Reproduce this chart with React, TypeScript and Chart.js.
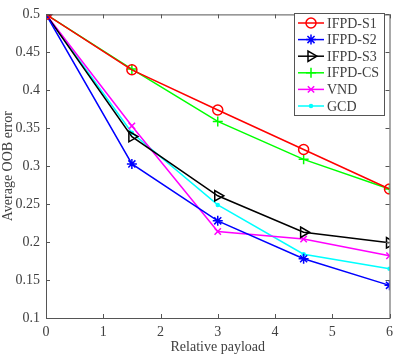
import React, { useEffect, useRef } from "react";
import { Chart, registerables } from "chart.js";

Chart.register(...registerables);

const xValues = [0, 1.5, 3, 4.5, 6];
const xTicks = [0, 1, 2, 3, 4, 5, 6];
const yTicks = [0.1, 0.15, 0.2, 0.25, 0.3, 0.35, 0.4, 0.45, 0.5];

const seriesNames = ["IFPD-S1", "IFPD-S2", "IFPD-S3", "IFPD-CS", "VND", "GCD"];
const s1 = [0.5, 0.427, 0.374, 0.322, 0.27];
const s2 = [0.5, 0.303, 0.228, 0.178, 0.143];
const s3 = [0.5, 0.339, 0.261, 0.213, 0.199];
const cs = [0.5, 0.428, 0.359, 0.309, 0.27];
const vnd = [0.5, 0.353, 0.214, 0.204, 0.182];
const gcd = [0.5, 0.344, 0.249, 0.184, 0.165];

const colors = ["#ff0000", "#0000ff", "#000000", "#00ff00", "#ff00ff", "#00ffff"];
const styles: any[] = ["circle", "star", "triangle", "cross", "crossRot", "circle"];
const radii = [5, 5, 6, 5, 4.5, 1.5];
const rotations = [0, 0, 90, 0, 0, 0];
const fills = ["rgba(0,0,0,0)", "#0000ff", "rgba(0,0,0,0)", "#00ff00", "#ff00ff", "#00ffff"];
const allData = [s1, s2, s3, cs, vnd, gcd];

const FONT = "'Liberation Serif', 'Times New Roman', serif";
const AXIS = "#555555";
const TEXT = "#404040";

function drawMarker(ctx: CanvasRenderingContext2D, i: number, x: number, y: number) {
  const r = radii[i];
  ctx.save();
  ctx.strokeStyle = colors[i];
  ctx.fillStyle = fills[i];
  ctx.lineWidth = 1.5;
  ctx.beginPath();
  const st = styles[i];
  if (st === "circle") {
    ctx.arc(x, y, r, 0, Math.PI * 2);
    ctx.fill();
    ctx.stroke();
  } else if (st === "triangle") {
    const rad = (rotations[i] * Math.PI) / 180;
    for (let k = 0; k < 3; k++) {
      const ang = rad - Math.PI / 2 + (k * 2 * Math.PI) / 3;
      const px = x + Math.cos(ang) * r;
      const py = y + Math.sin(ang) * r;
      if (k === 0) ctx.moveTo(px, py);
      else ctx.lineTo(px, py);
    }
    ctx.closePath();
    ctx.stroke();
  } else {
    const angs = st === "cross" ? [0, 90] : st === "crossRot" ? [45, 135] : [0, 45, 90, 135];
    angs.forEach((d) => {
      const a = (d * Math.PI) / 180;
      ctx.moveTo(x - Math.cos(a) * r, y - Math.sin(a) * r);
      ctx.lineTo(x + Math.cos(a) * r, y + Math.sin(a) * r);
    });
    ctx.stroke();
  }
  ctx.restore();
}

const framePlugin = {
  id: "frame",
  afterDraw(chart: any) {
    const { ctx, chartArea: a, scales } = chart;
    ctx.save();
    ctx.strokeStyle = AXIS;
    ctx.lineWidth = 1;
    ctx.strokeRect(a.left + 0.5, a.top + 0.5, a.right - a.left, a.bottom - a.top);
    const tl = 4;
    ctx.beginPath();
    xTicks.forEach((v) => {
      const px = Math.round(scales.x.getPixelForValue(v)) + 0.5;
      ctx.moveTo(px, a.bottom);
      ctx.lineTo(px, a.bottom - tl);
      ctx.moveTo(px, a.top);
      ctx.lineTo(px, a.top + tl);
    });
    yTicks.forEach((v) => {
      const py = Math.round(scales.y.getPixelForValue(v)) + 0.5;
      ctx.moveTo(a.left, py);
      ctx.lineTo(a.left + tl, py);
      ctx.moveTo(a.right, py);
      ctx.lineTo(a.right - tl, py);
    });
    ctx.stroke();

    // legend
    const lx = 294, ly = 13, lw = 90, lh = 102;
    ctx.fillStyle = "#ffffff";
    ctx.fillRect(lx, ly, lw, lh);
    ctx.strokeStyle = AXIS;
    ctx.lineWidth = 1;
    ctx.strokeRect(lx + 0.5, ly + 0.5, lw, lh);
    ctx.font = `14px ${FONT}`;
    ctx.textBaseline = "middle";
    chart.data.datasets.forEach((ds: any, i: number) => {
      const cy = ly + 10 + i * 16.6;
      ctx.strokeStyle = ds.borderColor;
      ctx.lineWidth = 1.5;
      ctx.beginPath();
      ctx.moveTo(lx + 4, cy);
      ctx.lineTo(lx + 30, cy);
      ctx.stroke();
      drawMarker(ctx, i, lx + 17, cy);
      ctx.fillStyle = TEXT;
      ctx.fillText(ds.label, lx + 33, cy + 1);
    });
    ctx.restore();
  },
};

export default function App() {
  const ref = useRef<HTMLCanvasElement>(null);
  useEffect(() => {
    document.body.style.margin = "0";
    const chart = new Chart(ref.current!, {
      type: "line",
      data: {
        datasets: allData.map((d, i) => ({
          label: seriesNames[i],
          data: d.map((v, j) => ({ x: xValues[j], y: v })),
          borderColor: colors[i],
          backgroundColor: fills[i],
          pointBackgroundColor: fills[i],
          pointBorderColor: colors[i],
          pointStyle: styles[i],
          pointRadius: radii[i],
          pointRotation: rotations[i],
          pointBorderWidth: 1.5,
          borderWidth: 1.5,
          tension: 0,
          fill: false,
        })),
      },
      options: {
        animation: false,
        responsive: false,
        events: [],
        layout: { padding: { left: 0, right: 8, top: 7, bottom: 0 } },
        plugins: { legend: { display: false }, tooltip: { enabled: false } },
        scales: {
          x: {
            type: "linear",
            min: 0,
            max: 6,
            afterFit: (s: any) => { s.height = 39; },
            afterBuildTicks: (s: any) => { s.ticks = xTicks.map((v) => ({ value: v })); },
            grid: { display: false, drawTicks: false },
            border: { display: false },
            ticks: { color: TEXT, font: { family: FONT, size: 14 }, padding: 6, maxRotation: 0 },
            title: { display: true, text: "Relative payload", color: TEXT, font: { family: FONT, size: 14 }, padding: { top: 0, bottom: 1 } },
          },
          y: {
            type: "linear",
            min: 0.1,
            max: 0.5,
            afterFit: (s: any) => { s.width = 46; },
            afterBuildTicks: (s: any) => { s.ticks = yTicks.map((v) => ({ value: v })); },
            grid: { display: false, drawTicks: false },
            border: { display: false },
            ticks: {
              color: TEXT,
              font: { family: FONT, size: 14 },
              padding: 6,
              callback: (v: any) => String(Math.round(Number(v) * 100) / 100),
            },
            title: { display: true, text: "Average OOB error", color: TEXT, font: { family: FONT, size: 14 }, padding: { top: 0, bottom: 1 } },
          },
        },
      },
      plugins: [framePlugin],
    });
    return () => chart.destroy();
  }, []);
  return <canvas ref={ref} width={399} height={357} style={{ display: "block" }} />;
}
